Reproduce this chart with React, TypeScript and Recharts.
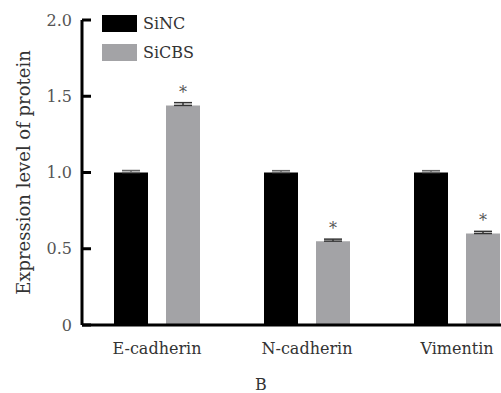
import React from "react";
import { BarChart, Bar, XAxis, YAxis, ErrorBar, LabelList, Legend } from "recharts";

// Western blot quantification: relative protein levels per marker
const categories = ["E-cadherin", "N-cadherin", "Vimentin"];
const siNC = [1.0, 1.0, 1.0];
const siNCErr = [0.013, 0.012, 0.012];
const siCBS = [1.44, 0.55, 0.6];
const siCBSErr = [0.018, 0.013, 0.014];
const significant = [true, true, true];
const yTicks = [0, 0.5, 1.0, 1.5, 2.0];
const seriesOrder = ["SiNC", "SiCBS"];

const FONT = "'DejaVu Serif', serif";

// only the upper half of each error bar is drawn
const data = categories.map((name, i) => ({
  name,
  siNC: siNC[i],
  siNCErr: [0, siNCErr[i]],
  siCBS: siCBS[i],
  siCBSErr: [0, siCBSErr[i]],
}));

const seriesColors: { [key: string]: string } = {
  SiNC: "#000000",
  SiCBS: "#a3a3a6",
};

function YTitle(props: any) {
  const { viewBox } = props;
  const cx = viewBox.x + 23;
  const cy = viewBox.y + viewBox.height / 2;
  return (
    <text
      x={cx}
      y={cy}
      transform={`rotate(-90 ${cx} ${cy})`}
      textAnchor="middle"
      dominantBaseline="central"
      fontFamily={FONT}
      fontSize={18}
      fill="#333"
    >
      Expression level of protein
    </text>
  );
}

function XTitle(props: any) {
  const { viewBox } = props;
  return (
    <text x={viewBox.x + 179} y={viewBox.y + 65} textAnchor="middle" fontFamily={FONT} fontSize={16} fill="#333">
      B
    </text>
  );
}

// asterisk sits above the error bar cap of significant bars
function Star(props: any) {
  const { x, y, width, height, value, index } = props;
  if (!significant[index]) return null;
  const pxPerUnit = height / value;
  const capY = y - siCBSErr[index] * pxPerUnit;
  return (
    <text x={x + width / 2} y={capY - 5} textAnchor="middle" fontFamily={FONT} fontSize={16} fill="#555">
      *
    </text>
  );
}

function LegendBox(props: any) {
  const items = [...props.payload].sort(
    (a: any, b: any) => seriesOrder.indexOf(a.value) - seriesOrder.indexOf(b.value)
  );
  return (
    <div style={{ fontFamily: FONT, fontSize: 16, color: "#333" }}>
      {items.map((p: any) => (
        <div key={p.value} style={{ display: "flex", alignItems: "center", height: 29 }}>
          <div style={{ width: 35, height: 17, background: seriesColors[p.value], marginRight: 6 }} />
          <span>{p.value}</span>
        </div>
      ))}
    </div>
  );
}

export default function App() {
  return (
    <div
      style={{
        position: "fixed",
        left: 0,
        top: 0,
        width: 501,
        height: 393,
        overflow: "hidden",
        background: "#fff",
      }}
    >
      <BarChart
        width={540}
        height={393}
        data={data}
        margin={{ top: 20, right: 8, left: 0, bottom: 0 }}
        barGap={18}
      >
        <XAxis
          dataKey="name"
          height={68}
          axisLine={{ stroke: "#000", strokeWidth: 3 }}
          tickLine={false}
          tickSize={0}
          tickMargin={18}
          tick={{ fontFamily: FONT, fontSize: 16, fill: "#333" }}
          label={{ content: <XTitle /> }}
        />
        {/* negative tickSize turns the tick marks inward */}
        <YAxis
          width={82}
          domain={[0, 2]}
          ticks={yTicks}
          interval={0}
          axisLine={{ stroke: "#000", strokeWidth: 3 }}
          tickLine={{ stroke: "#000", strokeWidth: 3 }}
          tickSize={-9}
          tickMargin={19}
          tickFormatter={(v: number) => (v === 0 ? "0" : v.toFixed(1))}
          tick={{ fontFamily: FONT, fontSize: 16, fill: "#555" }}
          label={{ content: <YTitle /> }}
        />
        <Legend
          layout="horizontal"
          verticalAlign="middle"
          align="center"
          wrapperStyle={{ top: 9, left: 102, width: "auto", height: "auto" }}
          content={<LegendBox />}
        />
        <Bar dataKey="siNC" name="SiNC" fill="#000" barSize={34} isAnimationActive={false}>
          <ErrorBar dataKey="siNCErr" direction="y" width={9} stroke="#666" strokeWidth={1.5} isAnimationActive={false} />
        </Bar>
        <Bar dataKey="siCBS" name="SiCBS" fill="#a3a3a6" barSize={34} isAnimationActive={false}>
          <ErrorBar dataKey="siCBSErr" direction="y" width={9} stroke="#333" strokeWidth={1.5} isAnimationActive={false} />
          <LabelList dataKey="siCBS" content={<Star />} />
        </Bar>
      </BarChart>
    </div>
  );
}
